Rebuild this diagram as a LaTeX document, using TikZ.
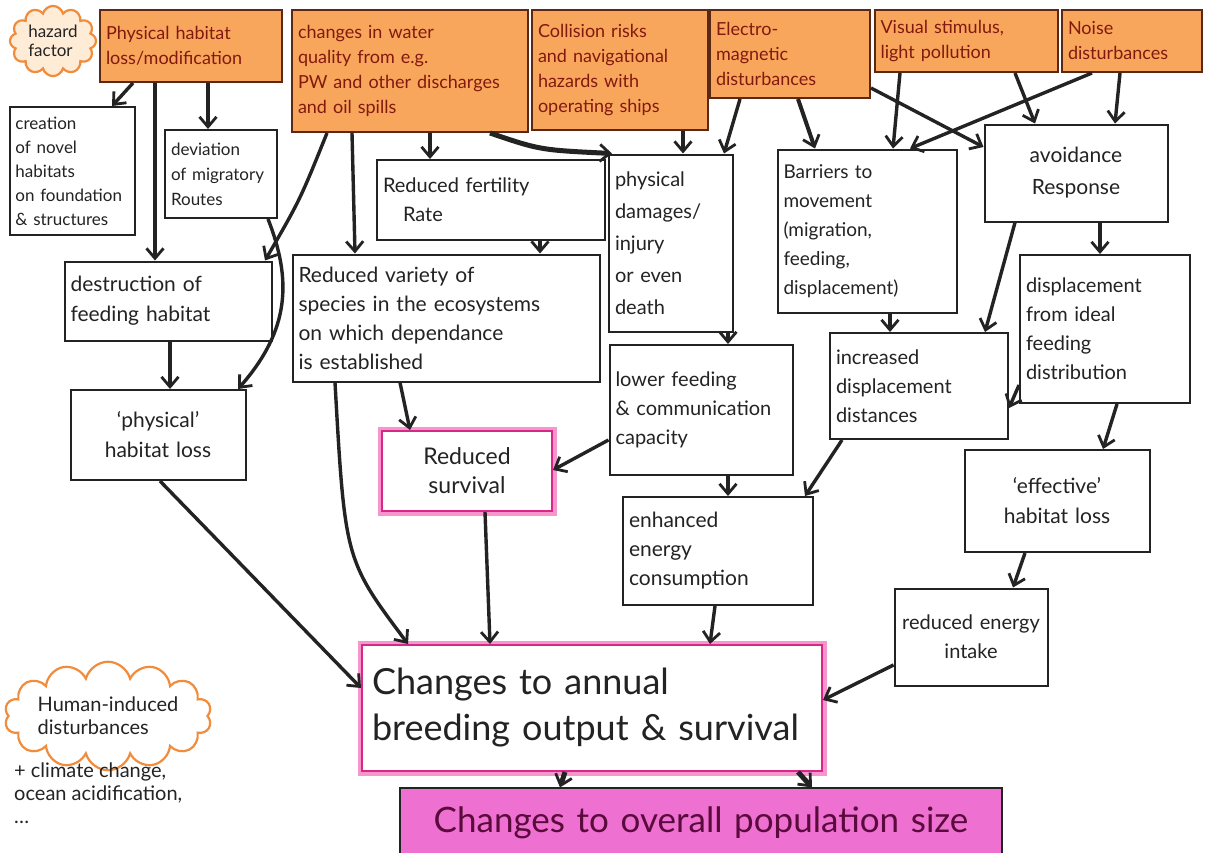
\documentclass[tikz,border=0pt]{standalone}
\usepackage{fontspec}
\setmainfont{Lato}
\usetikzlibrary{arrows.meta,shapes.symbols}
\definecolor{orangeF}{RGB}{248,166,92}
\definecolor{hazdraw}{RGB}{90,40,20}
\definecolor{haztext}{RGB}{130,25,15}
\definecolor{pinkE}{RGB}{215,40,135}
\definecolor{pinkG}{RGB}{246,150,205}
\definecolor{pinkF}{RGB}{238,112,208}
\definecolor{pinkT}{RGB}{90,10,60}
\definecolor{ink}{RGB}{35,35,35}
\definecolor{cloudE}{RGB}{240,140,60}
\definecolor{cloudF}{RGB}{255,236,215}
\tikzset{
  box/.style={draw=ink, line width=2pt, fill=white, align=left, inner xsep=6pt, inner ysep=3pt, text=ink, font=\fontsize{20}{29}\selectfont},
  haz/.style={box, fill=orangeF, draw=hazdraw, text=haztext, font=\fontsize{18}{25}\selectfont},
  pinkbox/.style={box, draw=pinkE, preaction={draw=pinkG, line width=9pt}},
  arr/.style={draw=ink, line width=3.4pt, -{Straight Barb[length=10pt,width=17pt,line width=2.8pt]}},
  cloudbox/.style={cloud, cloud puffs=12, draw=cloudE, line width=2.2pt, fill=cloudF, align=left, inner sep=0pt, text=ink}
}
\begin{document}
\begin{tikzpicture}[x=1pt,y=-1pt]
\clip (0,0) rectangle (1212,852);
\fill[white] (0,0) rectangle (1212,852);

% hazard factors
\node[cloudbox, aspect=1.2, minimum width=86, minimum height=70, font=\fontsize{17}{19}\selectfont] (hz) at (53,41) {hazard\\factor};
\node[haz, minimum width=182, minimum height=72, text width=170] (A) at (191,46) {Physical habitat\\loss/modification};
\node[haz, minimum width=236, minimum height=122, text width=224] (B) at (410,71) {changes in water\\quality from e.g.\\PW and other discharges\\and oil spills};
\node[haz, minimum width=176, minimum height=120, text width=164] (C) at (620,70) {Collision risks\\and navigational\\hazards with\\operating ships};
\node[haz, minimum width=160, minimum height=88, text width=148] (D) at (790,54) {Electro-\\magnetic\\disturbances};
\node[haz, minimum width=183, minimum height=62, text width=171] (E) at (966,41) {Visual stimulus,\\light pollution};
\node[haz, minimum width=140, minimum height=62, text width=128] (F) at (1132,41) {Noise\\disturbances};

% second row
\node[box, minimum width=125, minimum height=128, text width=113, font=\fontsize{17}{24}\selectfont] (n1) at (72,171) {creation\\of novel\\habitats\\on foundation\\\& structures};
\node[box, minimum width=112, minimum height=88, text width=100, font=\fontsize{17}{25}\selectfont] (n2) at (221,174) {deviation\\of migratory\\Routes};
\node[box, minimum width=228, minimum height=80, text width=216] (n3) at (491,200) {Reduced fertility\\\quad Rate};
\node[box, minimum width=124, minimum height=177, text width=112, font=\fontsize{20}{32}\selectfont] (n4) at (671,243) {physical\\damages/\\injury\\or even\\death};
\node[box, minimum width=179, minimum height=163, text width=167, font=\fontsize{19}{29}\selectfont] (n5) at (867,231) {Barriers to\\movement\\(migration,\\feeding,\\displacement)};
\node[box, minimum width=183, minimum height=97, text width=171, align=center, font=\fontsize{21}{32}\selectfont] (n6) at (1076,173) {avoidance\\Response};

% third row
\node[box, minimum width=207, minimum height=79, text width=195, font=\fontsize{21}{30}\selectfont] (n7) at (168,301) {destruction of\\feeding habitat};
\node[box, minimum width=307, minimum height=127, text width=295, font=\fontsize{21}{29}\selectfont] (n8) at (446,318) {Reduced variety of\\species in the ecosystems\\on which dependance\\is established};
\node[box, minimum width=183, minimum height=130, text width=171] (n9) at (701,410) {lower feeding\\\& communication\\capacity};
\node[box, minimum width=178, minimum height=106, text width=166] (n10) at (919,386) {increased\\displacement\\distances};
\node[box, minimum width=170, minimum height=148, text width=158] (n11) at (1105,329) {displacement\\from ideal\\feeding\\distribution};

% fourth row
\node[box, minimum width=175, minimum height=90, text width=163, align=center, font=\fontsize{21}{30}\selectfont] (n12) at (158,435) {‘physical’\\habitat loss};
\node[pinkbox, minimum width=170, minimum height=80, text width=158, align=center, font=\fontsize{23}{29}\selectfont] (n13) at (467,471) {Reduced\\survival};
\node[box, minimum width=190, minimum height=108, text width=178, font=\fontsize{21}{29}\selectfont] (n14) at (718,551) {enhanced\\energy\\consumption};
\node[box, minimum width=185, minimum height=102, text width=173, align=center, font=\fontsize{21}{30}\selectfont] (n15) at (1057,501) {‘effective’\\habitat loss};
\node[box, minimum width=153, minimum height=97, text width=141, align=center] (n16) at (971,637) {reduced energy\\intake};

% bottom
\node[pinkbox, minimum width=460, minimum height=126, text width=440, font=\fontsize{36}{46}\selectfont] (n17) at (592,708) {Changes to annual\\breeding output \& survival};
\node[box, draw=ink, line width=1.2pt, fill=pinkF, text=pinkT, minimum width=602, minimum height=70, text width=580, align=center, font=\fontsize{35}{40}\selectfont] (n18) at (701,823) {Changes to overall population size};

% legend
\node[cloudbox, fill=white, aspect=2.6, cloud puffs=14, font=\fontsize{20}{23}\selectfont] (hum) at (108,716) {Human-induced\\disturbances};
\node[align=left, anchor=north west, inner sep=0pt, text=ink, font=\fontsize{20}{23}\selectfont] (clim) at (14,763) {+ climate change,\\ocean acidification,\\…};

% connectors
\draw[arr] (133,0 |- A.south) -- (112,0 |- n1.north);
\draw[arr] (155,0 |- A.south) -- (155,0 |- n7.north);
\draw[arr] (208,0 |- A.south) -- (208,0 |- n2.north);
\draw[arr] (327,0 |- B.south) .. controls (300,200) .. (265,0 |- n7.north);
\draw[arr] (268,0 |- n2.south) .. controls (292,280) and (290,330) .. (238,0 |- n12.north);
\draw[arr] (352,0 |- B.south) -- (355,0 |- n8.north);
\draw[arr] (430,0 |- B.south) -- (430,0 |- n3.north);
\draw[arr, line width=5pt] (490,0 |- B.south) .. controls (540,150) .. (612,0 |- n4.north);
\draw[arr] (683,0 |- C.south) -- (683,0 |- n4.north);
\draw[arr] (740,0 |- D.south) -- (724,0 |- n4.north);
\draw[arr, line width=4pt] (798,0 |- D.south) -- (815,0 |- n5.north);
\draw[arr] (D.east |- 0,88) -- (n6.west |- 0,147);
\draw[arr] (900,0 |- E.south) -- (893,0 |- n5.north);
\draw[arr] (1015,0 |- E.south) -- (1035,0 |- n6.north);
\draw[arr] (1092,0 |- F.south) -- (910,0 |- n5.north);
\draw[arr] (1120,0 |- F.south) -- (1115,0 |- n6.north);
\draw[arr] (540,0 |- n3.south) -- (540,0 |- n8.north);
\draw[arr] (728,0 |- n4.south) -- (728,0 |- n9.north);
\draw[arr] (890,0 |- n5.south) -- (890,0 |- n10.north);
\draw[arr] (1015,0 |- n6.south) -- (985,0 |- n10.north);
\draw[arr] (1100,0 |- n6.south) -- (1100,0 |- n11.north);
\draw[arr] (n11.west |- 0,385) -- (n10.east |- 0,408);
\draw[arr] (1117,0 |- n11.south) -- (1103,0 |- n15.north);
\draw[arr] (170,0 |- n7.south) -- (170,0 |- n12.north);
\draw[arr] (400,0 |- n8.south) -- (410,0 |- n13.north);
\draw[arr] (335,0 |- n8.south) .. controls (345,560) .. (408,0 |- n17.north);
\draw[arr] (n9.west |- 0,440) -- (n13.east |- 0,470);
\draw[arr] (728,0 |- n9.south) -- (728,0 |- n14.north);
\draw[arr] (842,0 |- n10.south) -- (805,0 |- n14.north);
\draw[arr] (160,0 |- n12.south) -- (n17.west |- 0,688);
\draw[arr] (485,0 |- n13.south) -- (490,0 |- n17.north);
\draw[arr] (715,0 |- n14.south) -- (710,0 |- n17.north);
\draw[arr] (1025,0 |- n15.south) -- (1013,0 |- n16.north);
\draw[arr] (n16.west |- 0,665) -- (n17.east |- 0,700);
\draw[arr, line width=5pt] (565,0 |- n17.south) -- (560,0 |- n18.north);
\draw[arr, line width=5pt] (798,0 |- n17.south) -- (812,0 |- n18.north);
\end{tikzpicture}
\end{document}
